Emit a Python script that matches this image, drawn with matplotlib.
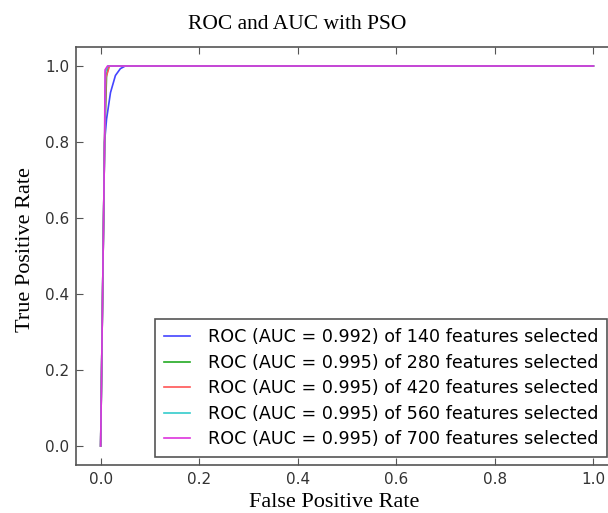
import matplotlib
matplotlib.use("Agg")
import matplotlib.pyplot as plt

fpr_140 = [0.0, 0.008, 0.012, 0.02, 0.03, 0.04, 0.05, 0.09, 1.0]
tpr_140 = [0.0, 0.80, 0.86, 0.93, 0.975, 0.993, 1.0, 1.0, 1.0]
fpr_280 = [0.0, 0.008, 0.012, 0.016, 1.0]
tpr_280 = [0.0, 0.80, 0.975, 1.0, 1.0]
fpr_420 = [0.0, 0.008, 0.011, 0.018, 1.0]
tpr_420 = [0.0, 0.80, 0.97, 1.0, 1.0]
fpr_560 = [0.0, 0.008, 0.010, 0.015, 1.0]
tpr_560 = [0.0, 0.80, 0.985, 1.0, 1.0]
fpr_700 = [0.0, 0.008, 0.009, 0.014, 1.0]
tpr_700 = [0.0, 0.80, 0.99, 1.0, 1.0]

auc_values = [0.992, 0.995, 0.995, 0.995, 0.995]
n_features = [140, 280, 420, 560, 700]
colors = ["#4444ff", "#22aa22", "#ff5555", "#33cccc", "#dd33dd"]

series = [(fpr_140, tpr_140), (fpr_280, tpr_280), (fpr_420, tpr_420),
          (fpr_560, tpr_560), (fpr_700, tpr_700)]

fig = plt.figure(figsize=(6.08, 5.13), dpi=100)
ax = fig.add_axes([76/608, 1-465/513, 542/608, (465-47)/513])

for (fx, ty), auc, n, c in zip(series, auc_values, n_features, colors):
    ax.plot(fx, ty, color=c, lw=1.2,
            label=f"ROC (AUC = {auc:.3f}) of {n} features selected")

ax.set_xlim(-0.05, 1.05)
ax.set_ylim(-0.05, 1.05)
ax.set_xticks([0.0, 0.2, 0.4, 0.6, 0.8, 1.0])
ax.set_yticks([0.0, 0.2, 0.4, 0.6, 0.8, 1.0])
ax.tick_params(direction="in", top=True, right=True, length=5, width=0.8,
               labelsize=11, colors="#555555", labelcolor="#333333", pad=5)
for s in ax.spines.values():
    s.set_color("#555555")
    s.set_linewidth(1.2)

serif = ["Liberation Serif", "DejaVu Serif"]
ax.set_title("ROC and AUC with PSO", fontsize=15.5, family=serif,
             x=(297-76)/542, y=1.0, pad=13)
ax.set_xlabel("False Positive Rate", fontsize=16, family=serif)
ax.xaxis.set_label_coords((334-76)/542, -0.068)
ax.set_ylabel("True Positive Rate", fontsize=16, family=serif)
ax.yaxis.set_label_coords(-0.076, (465-250)/418)

leg = ax.legend(loc="lower right", bbox_to_anchor=(607/608, 1-457/513),
                bbox_transform=fig.transFigure, fontsize=12.6, fancybox=False,
                framealpha=1, edgecolor="#555555", borderaxespad=0,
                handlelength=1.5, handletextpad=1.0, labelspacing=0.43,
                borderpad=0.5)
leg.get_frame().set_linewidth(1.2)

fig.savefig("out.png", dpi=100)
